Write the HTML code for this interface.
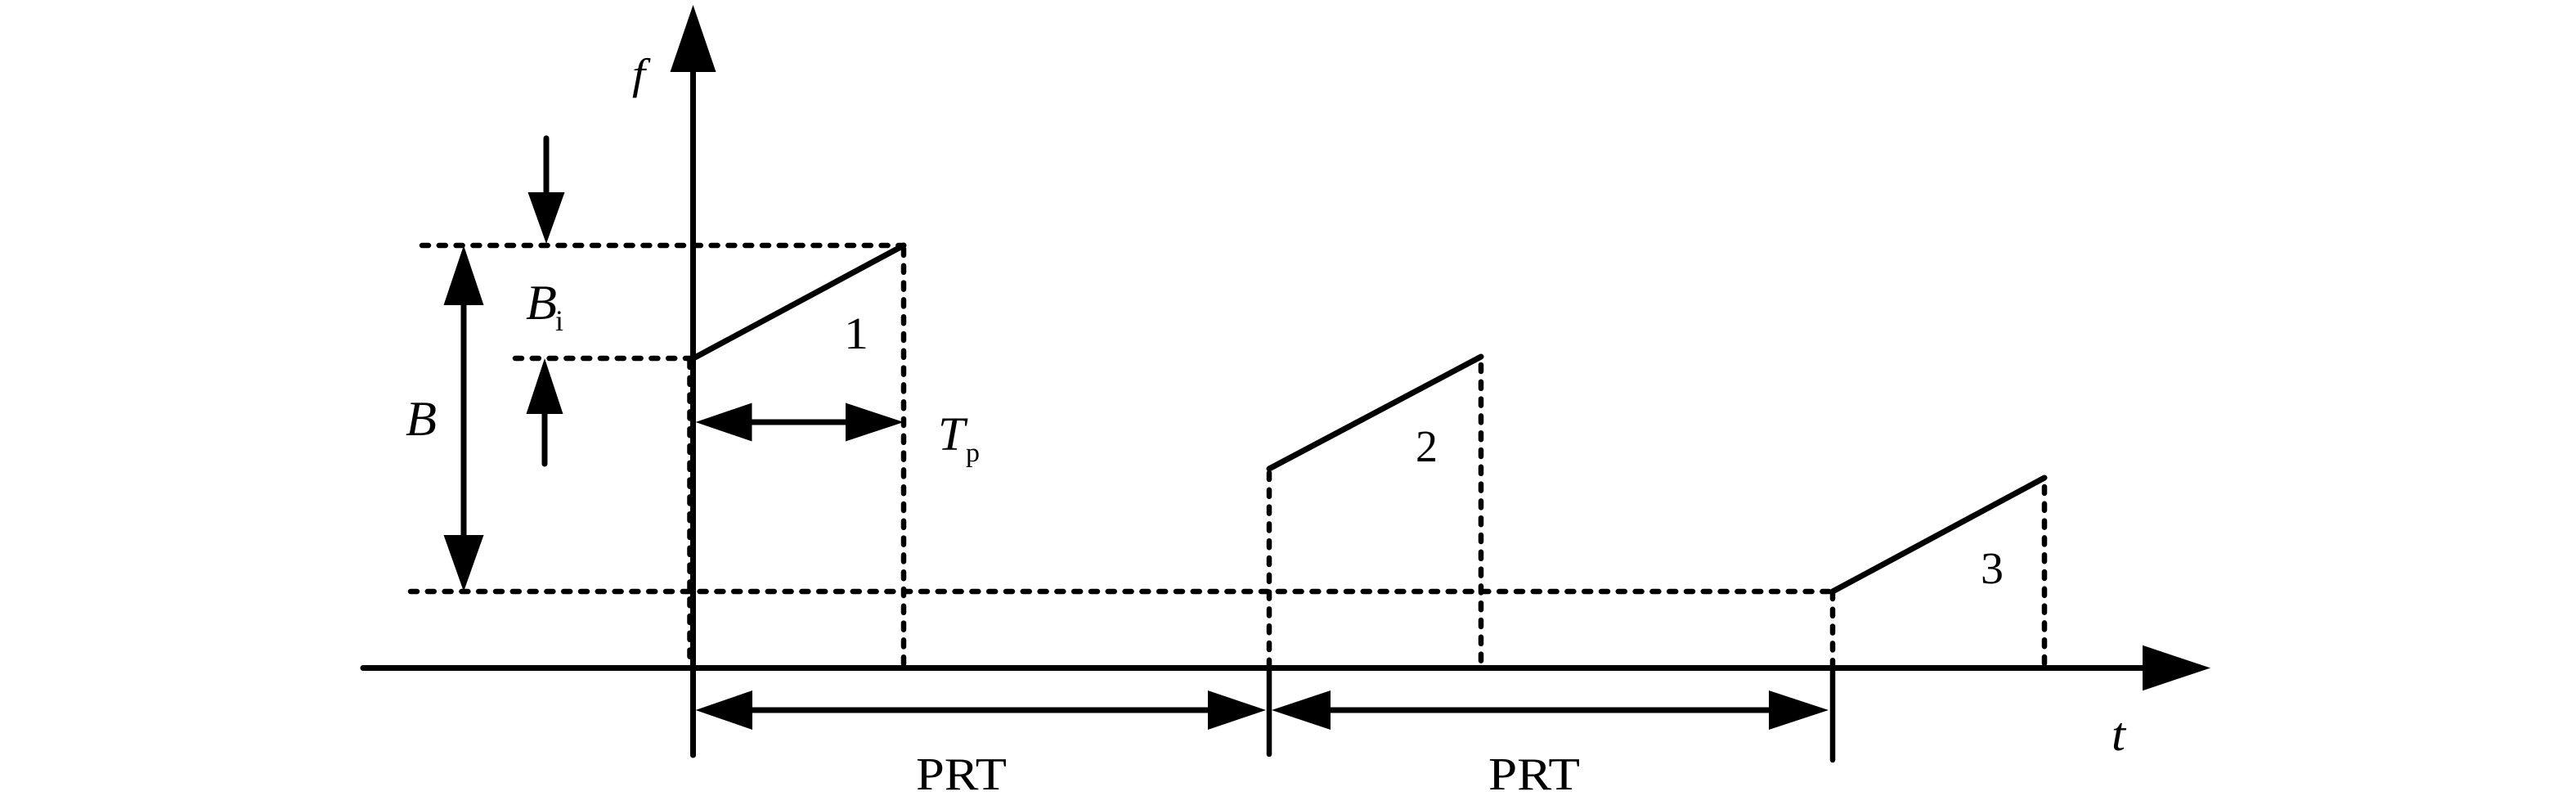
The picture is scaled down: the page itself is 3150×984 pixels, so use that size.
<!DOCTYPE html>
<html><head><meta charset="utf-8"><style>html,body{margin:0;padding:0;background:#fff}svg{display:block}
text{font-family:"Liberation Serif",serif;fill:#000;font-size:56px}
.i{font-style:italic}
.s{font-size:36px}
</style></head><body>
<svg width="3150" height="984" viewBox="0 0 3150 984" xmlns="http://www.w3.org/2000/svg">
<rect width="3150" height="984" fill="#fff"/>
<g fill="none" stroke="#000" stroke-width="6.5" stroke-linecap="round">
 <g stroke-dasharray="8 12.8">
  <path d="M516 300H1105"/>
  <path d="M630 438H846"/>
  <path d="M502 723H2238"/>
  <path d="M843.5 441V813"/>
  <path d="M1105 304V813"/>
  <path d="M1552 578V816"/>
  <path d="M1811 446V811"/>
  <path d="M2241 724V816"/>
  <path d="M2500 595V816"/>
 </g>
 <g stroke-width="7">
  <path d="M847.5 60V923"/>
  <path d="M444 816.5H2640"/>
  <path d="M567 340V690"/>
  <path d="M668 169V250"/>
  <path d="M666 490V567"/>
  <path d="M900 516H1050"/>
  <path d="M900 868H1500"/>
  <path d="M1610 868H2180"/>
  <path d="M1552 816V922" stroke-width="6.5"/>
  <path d="M2241 816V929" stroke-width="6.5"/>
  <path d="M846 439L1105 300"/>
  <path d="M1552 573L1811 436"/>
  <path d="M2241 723L2500 584"/>
 </g>
</g>
<g fill="#000">
 <path d="M847.5 6L875.5 88H819.5Z"/>
 <path d="M2703 816.5L2620 844.2V788.8Z"/>
 <path d="M567 300L591.5 373H542.5Z"/>
 <path d="M567 723L591.5 654H542.5Z"/>
 <path d="M668 298L690.5 235H645.5Z"/>
 <path d="M666 438L688.5 506H643.5Z"/>
 <path d="M850.5 516L919.5 492.5V539.5Z"/>
 <path d="M1105 516L1034 492.5V539.5Z"/>
 <path d="M850.5 868L920 844V892Z"/>
 <path d="M1548 868L1477 844V892Z"/>
 <path d="M1555 868L1627 844V892Z"/>
 <path d="M2236 868L2163 844V892Z"/>
</g>
<text class="i" x="773" y="108" style="font-size:53px" textLength="16" lengthAdjust="spacingAndGlyphs">f</text>
<text class="i" x="496" y="532" style="font-size:60px" textLength="38" lengthAdjust="spacingAndGlyphs">B</text>
<text class="i" x="643" y="390" style="font-size:60px" textLength="38" lengthAdjust="spacingAndGlyphs">B</text>
<text class="s" x="679" y="404" textLength="10" lengthAdjust="spacingAndGlyphs">i</text>
<text class="i" x="1147" y="550" style="font-size:58px" textLength="33" lengthAdjust="spacingAndGlyphs">T</text>
<text class="s" x="1181" y="564" style="font-size:33px" textLength="17" lengthAdjust="spacingAndGlyphs">p</text>
<text x="1032" y="426" style="font-size:55px" textLength="30" lengthAdjust="spacingAndGlyphs">1</text>
<text x="1731" y="564" style="font-size:55px" textLength="27" lengthAdjust="spacingAndGlyphs">2</text>
<text x="2422" y="713" style="font-size:55px" textLength="28" lengthAdjust="spacingAndGlyphs">3</text>
<text class="i" x="2582" y="917" style="font-size:58px" textLength="17" lengthAdjust="spacingAndGlyphs">t</text>
<text x="1120" y="965" textLength="111" lengthAdjust="spacingAndGlyphs">PRT</text>
<text x="1820" y="965" textLength="112" lengthAdjust="spacingAndGlyphs">PRT</text>
</svg>
</body></html>
